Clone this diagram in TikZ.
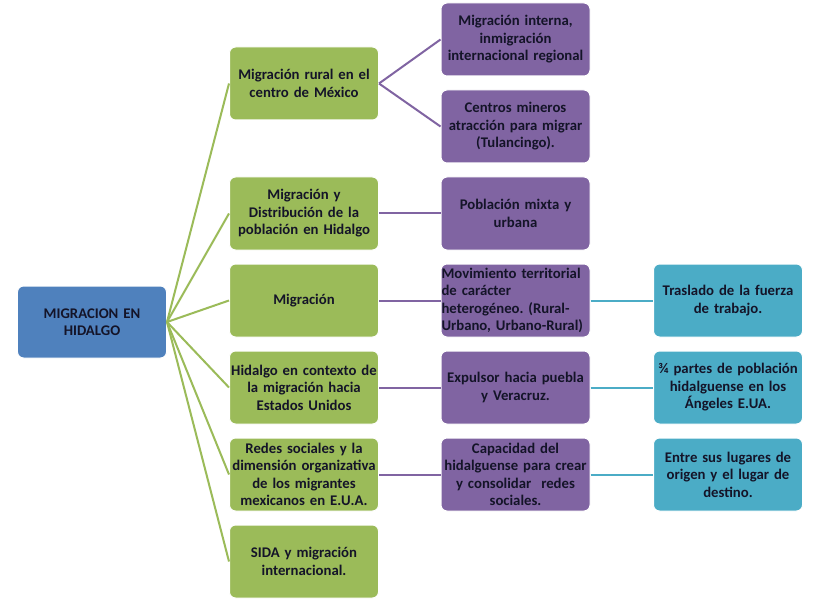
\documentclass[tikz,border=0pt]{standalone}
\usepackage{fontspec}
\setmainfont{Carlito}
\frenchspacing
\definecolor{rootblue}{HTML}{4F81BD}
\definecolor{lvgreen}{HTML}{9BBB59}
\definecolor{lvpurple}{HTML}{8064A2}
\definecolor{lvcyan}{HTML}{4BACC6}
\definecolor{txt}{HTML}{141428}
\begin{document}
\begin{tikzpicture}[x=1bp,y=-1bp,
  box/.style={rounded corners=6bp, draw=white, line width=1bp,
    minimum width=149bp, minimum height=73bp, text width=148bp,
    align=center, inner sep=0.5bp, text=txt,
    font=\bfseries\fontsize{14.8}{17.5}\selectfont},
  rootbox/.style={box, fill=rootblue, minimum width=148bp, minimum height=72bp},
  gbox/.style={box, fill=lvgreen},
  pbox/.style={box, fill=lvpurple},
  cbox/.style={box, fill=lvcyan},
  gline/.style={draw=lvgreen, line width=2bp},
  pline/.style={draw=lvpurple, line width=2bp},
  cline/.style={draw=lvcyan, line width=2bp}]
\fill[white] (0,0) rectangle (820,601);
\useasboundingbox (0,0) rectangle (820,601);

\node[rootbox] (r) at (92,322) {MIGRACION EN\\HIDALGO};

\node[gbox] (g1) at (304,83.5) {Migración rural en el\\centro de México};
\node[gbox] (g2) at (304,213.5) {Migración y\\Distribución de la\\población en Hidalgo};
\node[gbox] (g3) at (304,300.5) {Migración};
\node[gbox] (g4) at (304,387.5) {Hidalgo en contexto de\\la migración hacia\\Estados Unidos};
\node[gbox] (g5) at (304,474.5) {Redes sociales y la\\dimensión organizativa\\de los migrantes\\mexicanos en E.U.A.};
\node[gbox] (g6) at (304,561.5) {SIDA y migración\\internacional.};

\node[pbox] (p1) at (515.5,39.5) {Migración interna,\\inmigración\\internacional regional};
\node[pbox] (p2) at (515.5,126.5) {Centros mineros\\atracción para migrar\\(Tulancingo).};
\node[pbox] (p3) at (515.5,213.5) {Población mixta y\\urbana};
\node[pbox, align=left] (p4) at (515.5,300.5) {Movimiento territorial\\de carácter\\heterogéneo. (Rural-\\Urbano, Urbano-Rural)};
\node[pbox] (p5) at (515.5,387.5) {Expulsor hacia puebla\\y Veracruz.};
\node[pbox] (p6) at (515.5,474.5) {Capacidad del\\hidalguense para crear\\y consolidar\ \ redes\\sociales.};

\node[cbox] (c1) at (728,300.5) {Traslado de la fuerza\\de trabajo.};
\node[cbox] (c2) at (728,387.5) {¾ partes de población\\hidalguense en los\\Ángeles E.UA.};
\node[cbox] (c3) at (728,474.5) {Entre sus lugares de\\origen y el lugar de\\destino.};

\foreach \g in {g1,g2,g3,g4,g5,g6} \draw[gline] (r.east) -- (\g.west);
\draw[pline] (g1.east) -- (p1.west);
\draw[pline] (g1.east) -- (p2.west);
\draw[pline] (g2.east) -- (p3.west);
\draw[pline] (g3.east) -- (p4.west);
\draw[pline] (g4.east) -- (p5.west);
\draw[pline] (g5.east) -- (p6.west);
\draw[cline] (p4.east) -- (c1.west);
\draw[cline] (p5.east) -- (c2.west);
\draw[cline] (p6.east) -- (c3.west);
\end{tikzpicture}
\end{document}
